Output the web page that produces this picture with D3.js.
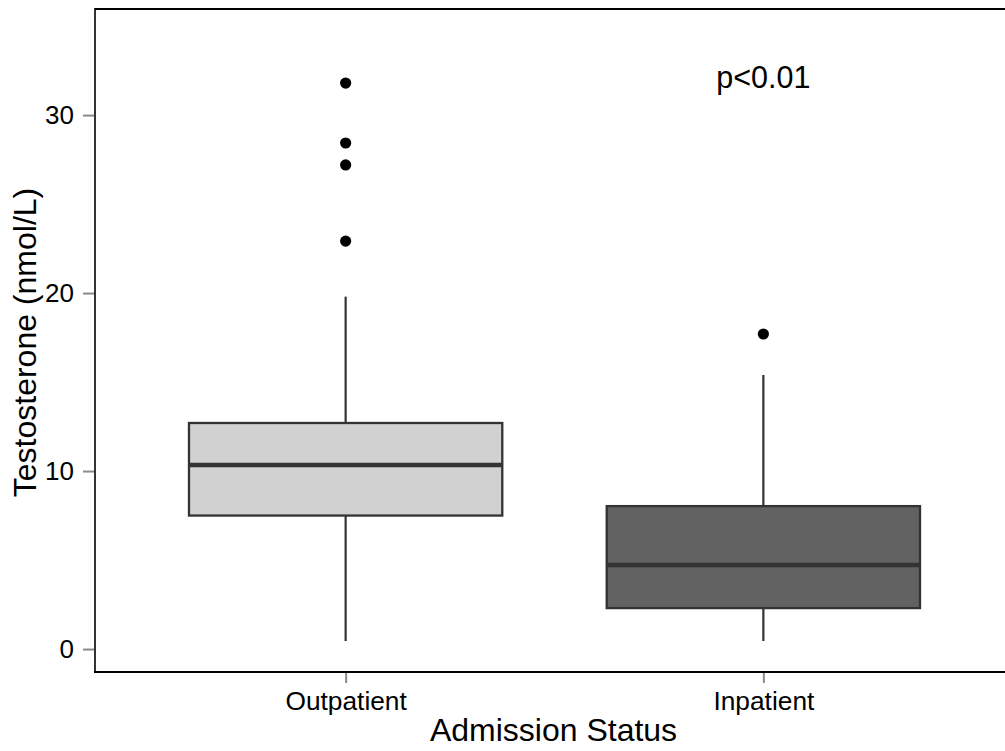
<!DOCTYPE html>
<html>
<head>
<meta charset="utf-8">
<script src="https://cdn.jsdelivr.net/npm/d3@7"></script>
<style>
  body { margin: 0; background: #fff; }
  text { font-family: "Liberation Sans", Arial, Helvetica, sans-serif; }
</style>
</head>
<body>
<svg id="chart" width="1005" height="751"></svg>
<script>
const categories = ["Outpatient", "Inpatient"];
const fills = ["#d1d1d1", "#626262"];
const whiskerLow = [0.45, 0.45];
const q1 = [7.5, 2.3];
const median = [10.34, 4.72];
const q3 = [12.7, 8.03];
const whiskerHigh = [19.8, 15.4];
const outliers = [[31.8, 28.43, 27.2, 22.92], [17.7]];
const yTicks = [0, 10, 20, 30];
const annotation = { label: "p<0.01", cat: "Inpatient", y: 32.1 };

(function () {
const svg = d3.select("#chart");
const pLeft = 95, pTop = 9, pBottom = 672, pRight = 1014;

const x = d3.scalePoint().domain(categories).range([pLeft, pRight]).padding(0.6);
const y = d3.scaleLinear().domain([-1.29, 35.96]).range([pBottom, pTop]);
const boxW = x.step() * 0.75;

const data = categories.map((c, i) => ({
  c, fill: fills[i], lo: whiskerLow[i], q1: q1[i], med: median[i], q3: q3[i], hi: whiskerHigh[i], out: outliers[i]
}));

const g = svg.append("g");
const dark = "#333333";

data.forEach(d => {
  const cx = x(d.c);
  g.append("line").attr("x1", cx).attr("x2", cx).attr("y1", y(d.hi)).attr("y2", y(d.q3))
    .attr("stroke", dark).attr("stroke-width", 2.2);
  g.append("line").attr("x1", cx).attr("x2", cx).attr("y1", y(d.q1)).attr("y2", y(d.lo))
    .attr("stroke", dark).attr("stroke-width", 2.2);
  g.append("rect").attr("x", cx - boxW / 2).attr("y", y(d.q3))
    .attr("width", boxW).attr("height", y(d.q1) - y(d.q3))
    .attr("fill", d.fill).attr("stroke", dark).attr("stroke-width", 2.3);
  g.append("line").attr("x1", cx - boxW / 2).attr("x2", cx + boxW / 2)
    .attr("y1", y(d.med)).attr("y2", y(d.med))
    .attr("stroke", dark).attr("stroke-width", 4.6);
  g.selectAll(null).data(d.out).enter().append("circle")
    .attr("cx", cx).attr("cy", v => y(v)).attr("r", 5.6).attr("fill", "#000");
});

svg.append("text").attr("x", x(annotation.cat)).attr("y", y(annotation.y) + 10)
  .attr("text-anchor", "middle").attr("font-size", 30.5).attr("fill", "#000")
  .text(annotation.label);

svg.append("line").attr("x1", pLeft).attr("x2", 1005).attr("y1", pTop).attr("y2", pTop)
  .attr("stroke", "#000").attr("stroke-width", 2);
svg.append("line").attr("x1", pLeft).attr("x2", pLeft).attr("y1", pTop - 1).attr("y2", pBottom + 1)
  .attr("stroke", "#000").attr("stroke-width", 1.6);
svg.append("line").attr("x1", pLeft - 1).attr("x2", 1005).attr("y1", pBottom).attr("y2", pBottom)
  .attr("stroke", "#000").attr("stroke-width", 2);

const yAxis = svg.append("g").attr("transform", `translate(${pLeft - 1},0)`)
  .call(d3.axisLeft(y).tickValues(yTicks).tickSize(11).tickPadding(9).tickFormat(d3.format("d")));
yAxis.select(".domain").remove();
yAxis.selectAll(".tick line").attr("stroke", "#8a8a8a").attr("stroke-width", 2);
yAxis.selectAll(".tick text").attr("font-size", 26).attr("fill", "#000")
  .attr("font-family", "'Liberation Sans', Arial, sans-serif");

const xAxis = svg.append("g").attr("transform", `translate(0,${pBottom + 1})`)
  .call(d3.axisBottom(x).tickSize(10).tickPadding(8));
xAxis.select(".domain").remove();
xAxis.selectAll(".tick line").attr("stroke", "#8a8a8a").attr("stroke-width", 2);
xAxis.selectAll(".tick text").attr("font-size", 26.3).attr("fill", "#000")
  .attr("font-family", "'Liberation Sans', Arial, sans-serif");

svg.append("text").attr("x", (pLeft + pRight) / 2 - 1).attr("y", 741)
  .attr("text-anchor", "middle").attr("font-size", 32).attr("fill", "#000")
  .text("Admission Status");
svg.append("text").attr("transform", `translate(36,${(pTop + pBottom) / 2 + 2}) rotate(-90)`)
  .attr("text-anchor", "middle").attr("font-size", 32).attr("fill", "#000")
  .text("Testosterone (nmol/L)");
})();
</script>
</body>
</html>
